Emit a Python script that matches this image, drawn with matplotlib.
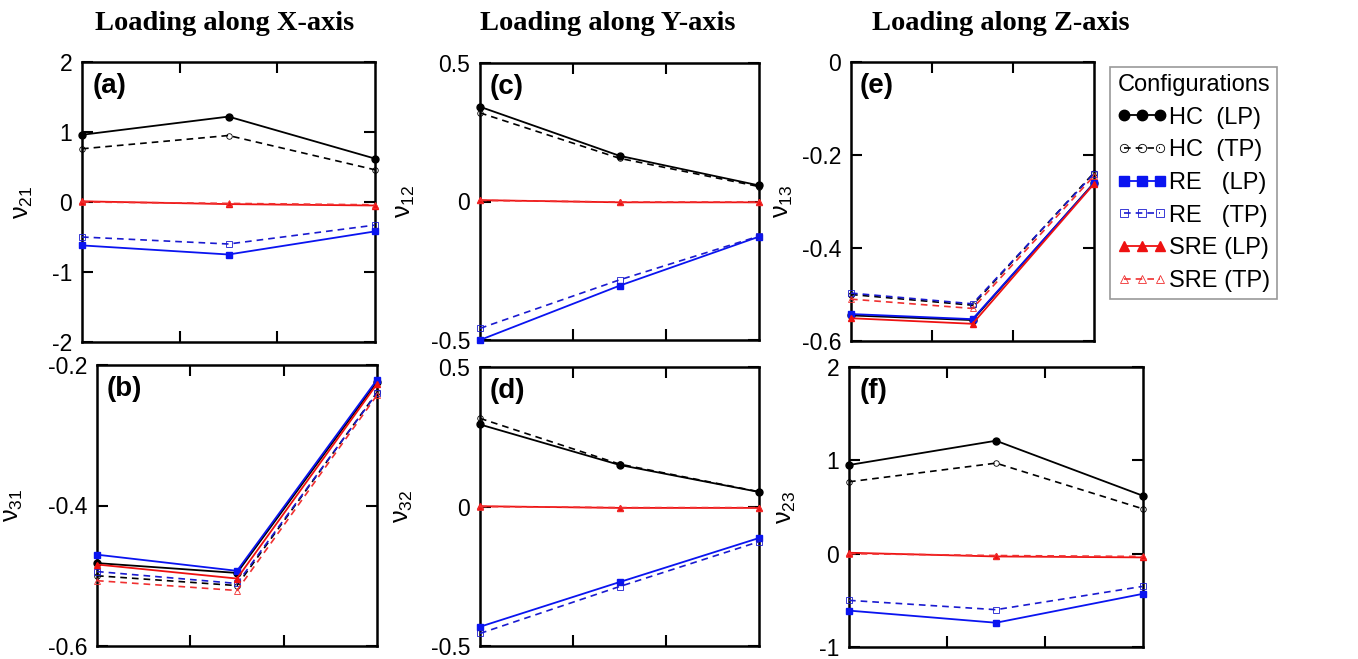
import matplotlib
matplotlib.use("Agg")
import matplotlib.pyplot as plt

plt.rcParams['font.family'] = ['Liberation Sans', 'DejaVu Sans']
plt.rcParams['mathtext.fontset'] = 'custom'
plt.rcParams['mathtext.rm'] = 'Liberation Sans'
plt.rcParams['mathtext.it'] = 'Liberation Sans'
plt.rcParams['mathtext.default'] = 'regular'

# three load positions along each axis (normalised)
x = [0, 0.5, 1]

series_names = ['HC  (LP)', 'HC  (TP)', 'RE   (LP)', 'RE   (TP)', 'SRE (LP)', 'SRE (TP)']

# rows: HC LP, HC TP, RE LP, RE TP, SRE LP, SRE TP
nu21 = [[0.96, 1.22, 0.62],
        [0.76, 0.95, 0.46],
        [-0.62, -0.75, -0.42],
        [-0.50, -0.60, -0.33],
        [0.01, -0.03, -0.05],
        [0.00, -0.02, -0.04]]

nu31 = [[-0.482, -0.496, -0.224],
        [-0.500, -0.514, -0.239],
        [-0.470, -0.493, -0.221],
        [-0.494, -0.511, -0.240],
        [-0.484, -0.504, -0.227],
        [-0.507, -0.521, -0.243]]

nu12 = [[0.342, 0.165, 0.058],
        [0.320, 0.156, 0.054],
        [-0.500, -0.304, -0.127],
        [-0.458, -0.283, -0.125],
        [0.005, -0.003, -0.003],
        [0.004, -0.002, -0.002]]

nu32 = [[0.294, 0.149, 0.052],
        [0.316, 0.152, 0.053],
        [-0.431, -0.271, -0.113],
        [-0.455, -0.287, -0.126],
        [0.001, -0.005, -0.005],
        [0.000, -0.004, -0.004]]

nu13 = [[-0.545, -0.555, -0.260],
        [-0.500, -0.523, -0.238],
        [-0.542, -0.553, -0.261],
        [-0.497, -0.520, -0.240],
        [-0.551, -0.563, -0.262],
        [-0.510, -0.530, -0.245]]

nu23 = [[0.95, 1.21, 0.62],
        [0.77, 0.97, 0.48],
        [-0.61, -0.74, -0.43],
        [-0.50, -0.60, -0.35],
        [0.01, -0.03, -0.04],
        [0.00, -0.02, -0.03]]

colors = ['black', 'black', '#0a14f0', '#1a1ad0', '#ee1111', '#f03030']
markers = ['o', 'o', 's', 's', '^', '^']
styles = ['-', '--', '-', '--', '-', '--']
filled = [True, False, True, False, True, False]

W, H = 1358, 659
fig = plt.figure(figsize=(W / 100, H / 100), dpi=100)


def px_axes(x0, y0, x1, y1):
    return fig.add_axes([x0 / W, 1 - y1 / H, (x1 - x0) / W, (y1 - y0) / H])


def panel(ax, data, tag, ylabel, ylim, yticks, ylab_dist):
    for i, ys in enumerate(data):
        if filled[i]:
            ax.plot(x, ys, linestyle=styles[i], color=colors[i], marker=markers[i],
                    markersize=5, linewidth=1.3, label=series_names[i], clip_on=False, zorder=3)
        else:
            ax.plot(x, ys, linestyle=styles[i], color=colors[i], marker=markers[i],
                    markersize=4, markerfacecolor='none', markeredgewidth=0.6,
                    linewidth=1.2, dashes=(4, 3), label=series_names[i], clip_on=False, zorder=3)
    ax.set_xlim(0, 1)
    ax.set_ylim(*ylim)
    ax.set_xticks([1 / 3, 2 / 3])
    ax.set_xticklabels([])
    ax.set_yticks(yticks)
    ax.set_yticklabels([f'{t:g}' for t in yticks])
    ax.tick_params(direction='in', length=8, width=1.5, top=True, right=True,
                   labelsize=16.5, pad=7)
    for s in ax.spines.values():
        s.set_linewidth(1.8)
    ax.text(0.035, 0.96, tag, transform=ax.transAxes, ha='left', va='top',
            fontsize=20, fontweight='bold')
    ax.set_ylabel(ylabel, fontsize=18)
    w = ax.get_position().width * W
    ax.yaxis.set_label_coords(-ylab_dist / w, 0.5)


ax_a = px_axes(82, 62, 375, 342)
ax_b = px_axes(97, 365, 377, 646)
ax_c = px_axes(480, 63, 759, 340)
ax_d = px_axes(480, 367, 759, 646)
ax_e = px_axes(851, 62, 1094, 341)
ax_f = px_axes(849, 367, 1143, 647)

panel(ax_a, nu21, '(a)', r'ν$_{21}$', (-2, 2), [-2, -1, 0, 1, 2], 47)
panel(ax_b, nu31, '(b)', r'ν$_{31}$', (-0.6, -0.2), [-0.6, -0.4, -0.2], 72)
panel(ax_c, nu12, '(c)', r'ν$_{12}$', (-0.5, 0.5), [-0.5, 0, 0.5], 63)
panel(ax_d, nu32, '(d)', r'ν$_{32}$', (-0.5, 0.5), [-0.5, 0, 0.5], 65)
panel(ax_e, nu13, '(e)', r'ν$_{13}$', (-0.6, 0), [-0.6, -0.4, -0.2, 0], 56)
panel(ax_f, nu23, '(f)', r'ν$_{23}$', (-1, 2), [-1, 0, 1, 2], 51)

title_font = dict(family=['Liberation Serif', 'DejaVu Serif'], fontsize=20.5, fontweight='bold',
                  ha='center', va='center')
fig.text(225 / W, 1 - 23 / H, 'Loading along X-axis', **title_font)
fig.text(608 / W, 1 - 23 / H, 'Loading along Y-axis', **title_font)
fig.text(1001 / W, 1 - 23 / H, 'Loading along Z-axis', **title_font)

handles, labels = ax_a.get_legend_handles_labels()
leg = fig.legend(handles, labels, loc='upper left', bbox_to_anchor=(1110 / W, 1 - 67 / H),
                 title='Configurations', fontsize=17, title_fontsize=17, numpoints=3,
                 markerscale=1.5, handlelength=2.1, handletextpad=0.1, labelspacing=0.45,
                 borderpad=0.3, borderaxespad=0, fancybox=False, framealpha=1)
leg.get_frame().set_edgecolor('#999999')
leg.get_frame().set_linewidth(1.2)

fig.savefig('out.png', dpi=100)
